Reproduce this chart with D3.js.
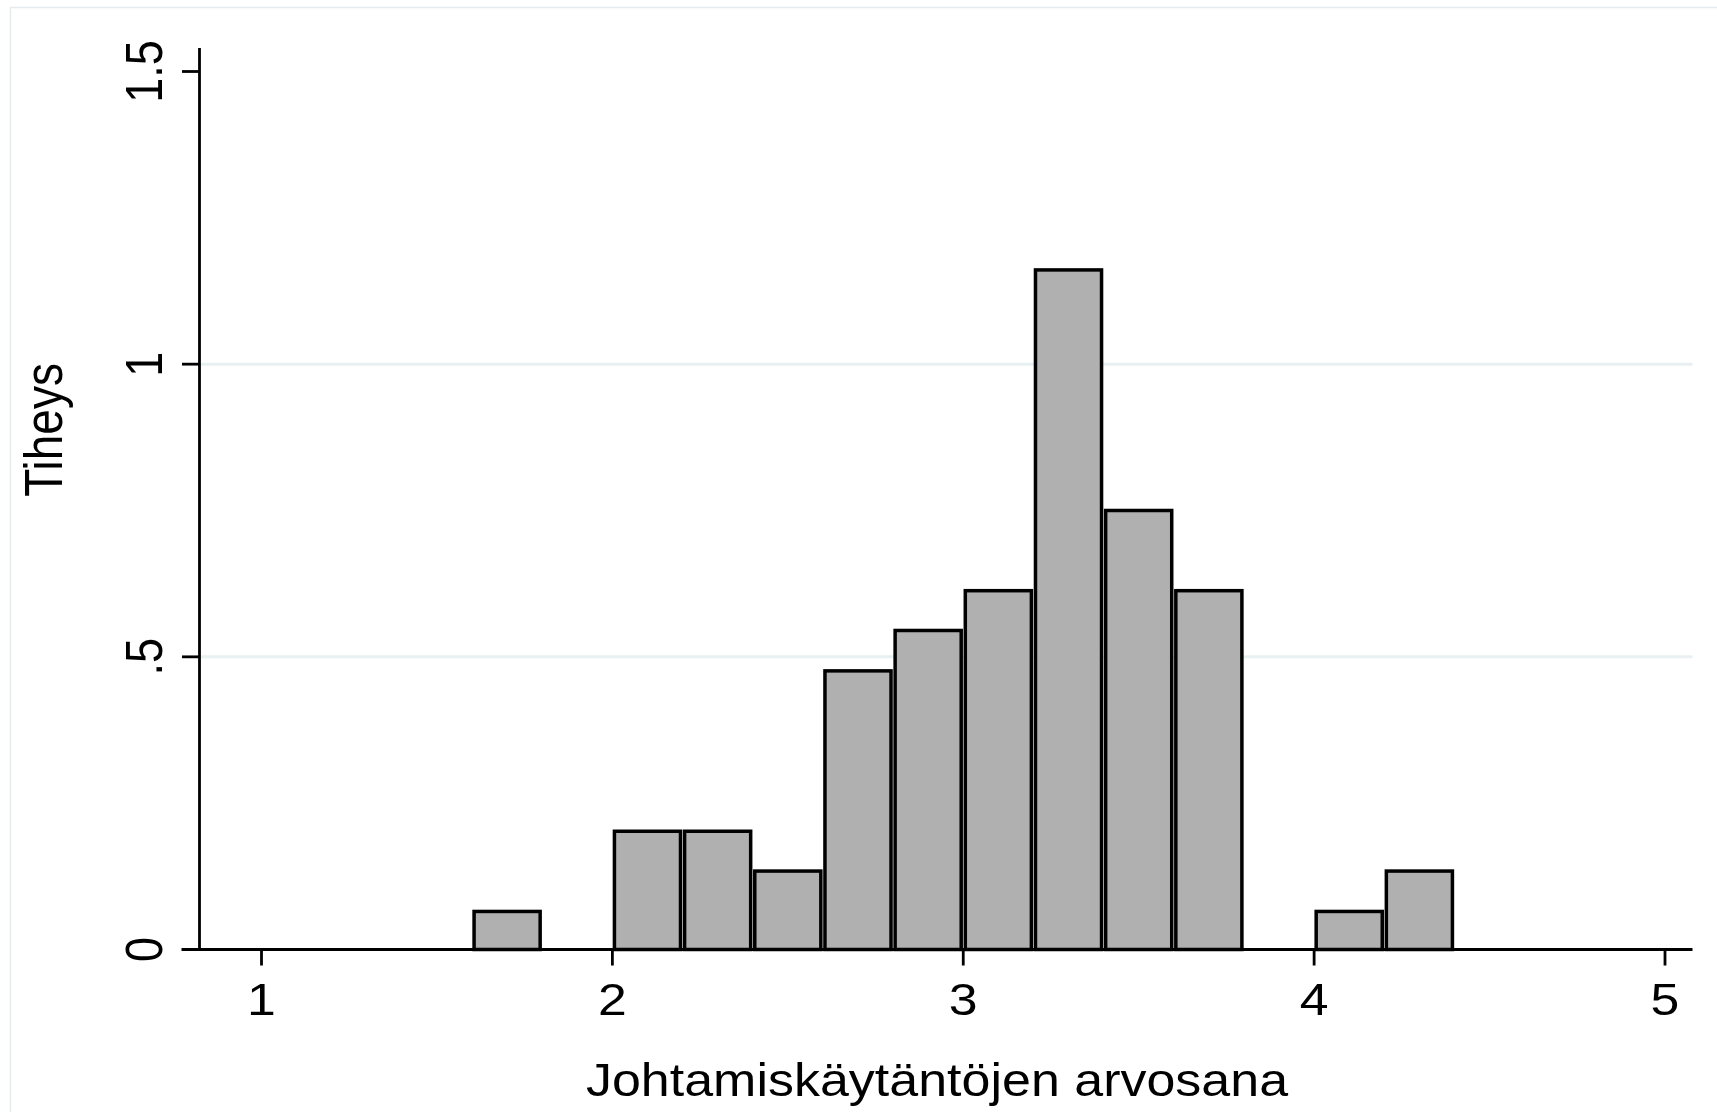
<!DOCTYPE html>
<html>
<head>
<meta charset="utf-8">
<script src="https://cdn.jsdelivr.net/npm/d3@7"></script>
<style>
    body { margin: 0; background: #fff; }
    text { font-family: "Liberation Sans", Arial, Helvetica, sans-serif; fill: #000; }
</style>
</head>
<body>
<div id="chart"></div>
<script>
// histogram bins (left edge) and density
var binStarts = [1.6, 2.0, 2.2, 2.4, 2.6, 2.8, 3.0, 3.2, 3.4, 3.6, 4.0, 4.2];
var densities = [0.068, 0.205, 0.205, 0.137, 0.479, 0.548, 0.616, 1.164, 0.753, 0.616, 0.068, 0.137];
var binWidth = 0.2;

var xTicks = [1, 2, 3, 4, 5];
var xTickLabels = ["1", "2", "3", "4", "5"];
var yTicks = [0, 0.5, 1, 1.5];
var yTickLabels = ["0", ".5", "1", "1.5"];
var gridValues = [0.5, 1];

var xTitle = "Johtamiskäytäntöjen arvosana";
var yTitle = "Tiheys";

var width = 1717, height = 1112;
var stretch = 1.15; // the original export is wider than tall

var svg = d3.select('#chart').append('svg')
    .attr("width", width)
    .attr("height", height);

svg.append("rect")
    .attr("width", width)
    .attr("height", height)
    .attr("fill", "#fff");

// outer graph region frame
svg.append("rect")
    .attr("x", 10.5)
    .attr("y", 7.5)
    .attr("width", width + 20)
    .attr("height", height + 20)
    .attr("fill", "none")
    .attr("stroke", "#e4ecef")
    .attr("stroke-width", 1.5);

var x = d3.scaleLinear()
    .domain([1, 5])
    .range([261.5, 1665]);

var y = d3.scaleLinear()
    .domain([0, 1.5])
    .range([949.5, 71.5]);

var axisLeft = 199.5, axisRight = 1692.5, axisTop = 48;

// gridlines
svg.selectAll(".grid")
    .data(gridValues)
    .enter().append("line")
    .attr("class", "grid")
    .attr("x1", axisLeft)
    .attr("x2", axisRight)
    .attr("y1", function(d) { return y(d) })
    .attr("y2", function(d) { return y(d) })
    .style("stroke", "#e8f0f1")
    .style("stroke-width", 3);

// bars
var sw = 3.5;
svg.selectAll(".bar")
    .data(binStarts)
    .enter().append("rect")
    .attr("class", "bar")
    .attr("x", function(d) { return x(d) + sw / 2 + 0.3 })
    .attr("width", function(d) { return x(d + binWidth) - x(d) - sw - 0.6 })
    .attr("y", function(d, i) { return y(densities[i]) + sw / 2 })
    .attr("height", function(d, i) { return y(0) - y(densities[i]) - sw / 2 })
    .style("fill", "#b0b0b0")
    .style("stroke", "#000")
    .style("stroke-width", sw);

// x axis
var xAxis = svg.append("g");
xAxis.append("line")
    .attr("x1", 181.5).attr("x2", axisRight)
    .attr("y1", y(0)).attr("y2", y(0))
    .style("stroke", "#000").style("stroke-width", 2.8);

xAxis.selectAll(".xtick")
    .data(xTicks)
    .enter().append("line")
    .attr("class", "xtick")
    .attr("x1", function(d) { return x(d) })
    .attr("x2", function(d) { return x(d) })
    .attr("y1", y(0))
    .attr("y2", y(0) + 16)
    .style("stroke", "#000").style("stroke-width", 2.8);

xAxis.selectAll(".xlabel")
    .data(xTicks)
    .enter().append("text")
    .attr("class", "xlabel")
    .attr("transform", function(d) { return "translate(" + x(d) + ",1015) scale(" + stretch + ",1)" })
    .attr("text-anchor", "middle")
    .style("font-size", "45px")
    .text(function(d, i) { return xTickLabels[i] });

// y axis
var yAxis = svg.append("g");
yAxis.append("line")
    .attr("x1", axisLeft).attr("x2", axisLeft)
    .attr("y1", axisTop).attr("y2", y(0))
    .style("stroke", "#000").style("stroke-width", 2.8);

yAxis.selectAll(".ytick")
    .data(yTicks)
    .enter().append("line")
    .attr("class", "ytick")
    .attr("x1", 182)
    .attr("x2", axisLeft)
    .attr("y1", function(d) { return y(d) })
    .attr("y2", function(d) { return y(d) })
    .style("stroke", "#000").style("stroke-width", 2.8);

yAxis.selectAll(".ylabel")
    .data(yTicks)
    .enter().append("text")
    .attr("class", "ylabel")
    .attr("transform", function(d) { return "translate(162," + y(d) + ") scale(" + stretch + ",1) rotate(-90)" })
    .attr("text-anchor", "middle")
    .style("font-size", "45px")
    .text(function(d, i) { return yTickLabels[i] });

// axis titles
svg.append("text")
    .attr("transform", "translate(937,1096) scale(1.13,1)")
    .attr("text-anchor", "middle")
    .style("font-size", "46px")
    .text(xTitle);

svg.append("text")
    .attr("transform", "translate(62,430) scale(" + stretch + ",1) rotate(-90)")
    .attr("text-anchor", "middle")
    .style("font-size", "46px")
    .text(yTitle);
</script>
</body>
</html>
